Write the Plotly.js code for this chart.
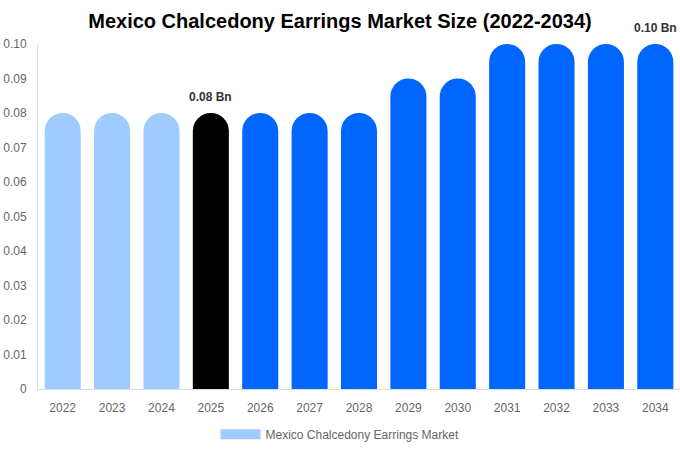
<!DOCTYPE html>
<html>
<head>
<meta charset="utf-8">
<script src="https://cdn.plot.ly/plotly-3.0.1.min.js"></script>
<style>
  html, body { margin: 0; padding: 0; background: #fff; }
  #chart { width: 680px; height: 450px; }
</style>
</head>
<body>
<div id="chart"></div>
<script>
// market size per year, in billions
var years = ['2022', '2023', '2024', '2025', '2026', '2027', '2028',
             '2029', '2030', '2031', '2032', '2033', '2034'];
var sizes = [0.08, 0.08, 0.08, 0.08, 0.08, 0.08, 0.08,
             0.09, 0.09, 0.10, 0.10, 0.10, 0.10];
var barColors = ['#a0cbff', '#a0cbff', '#a0cbff', '#000000',
                 '#0066ff', '#0066ff', '#0066ff', '#0066ff', '#0066ff',
                 '#0066ff', '#0066ff', '#0066ff', '#0066ff'];
var yTicks = [0, 0.01, 0.02, 0.03, 0.04, 0.05, 0.06, 0.07, 0.08, 0.09, 0.10];
var yTickText = ['0', '0.01', '0.02', '0.03', '0.04', '0.05', '0.06',
                 '0.07', '0.08', '0.09', '0.10'];
var labelled = ['2025', '2034'];
var seriesName = 'Mexico Chalcedony Earrings Market';

var bars = {
  type: 'bar',
  x: years,
  y: sizes,
  marker: { color: barColors, cornerradius: 18 },
  showlegend: false,
  hoverinfo: 'x+y'
};

// legend swatch only, no visible point
var legendItem = {
  type: 'scatter',
  mode: 'lines',
  x: [years[0]],
  y: [null],
  name: seriesName,
  line: { color: '#a0cbff', width: 12 },
  showlegend: true
};

// on a category axis annotations take the category index
var notes = labelled.map(function (yr) {
  var i = years.indexOf(yr);
  return {
    x: i, y: sizes[i], xref: 'x', yref: 'y',
    text: '<b>' + sizes[i].toFixed(2) + ' Bn</b>',
    showarrow: false, yanchor: 'bottom', yshift: 7,
    font: { family: 'Liberation Sans, Arial, sans-serif', size: 12, color: '#333' }
  };
});

var layout = {
  width: 680,
  height: 450,
  margin: { l: 38, r: 0, t: 44, b: 61 },
  paper_bgcolor: '#fff',
  plot_bgcolor: '#fff',
  font: { family: 'Liberation Sans, Arial, sans-serif', size: 12, color: '#666' },
  title: {
    text: '<b>Mexico Chalcedony Earrings Market Size (2022-2034)</b>',
    x: 0.5, xanchor: 'center', y: 0.953, yanchor: 'middle',
    font: { size: 20, color: '#000' }
  },
  bargap: 0.27,
  xaxis: {
    type: 'category',
    categoryarray: years,
    showgrid: false,
    showline: true, linecolor: '#ddd', linewidth: 1,
    ticks: 'outside', ticklen: 8, tickcolor: 'rgba(0,0,0,0)',
    tickfont: { size: 12, color: '#666' },
    fixedrange: true
  },
  yaxis: {
    range: [0, 0.1],
    showgrid: false, zeroline: false,
    showline: true, linecolor: '#ddd', linewidth: 1,
    tickvals: yTicks, ticktext: yTickText,
    ticks: 'outside', ticklen: 8, tickcolor: 'rgba(0,0,0,0)',
    tickfont: { size: 12, color: '#666' },
    fixedrange: true
  },
  showlegend: true,
  legend: {
    orientation: 'h',
    x: 0.5, xanchor: 'center', xref: 'container',
    y: 0.035, yanchor: 'middle', yref: 'container',
    itemwidth: 40,
    font: { size: 12, color: '#666' }
  },
  annotations: notes
};

Plotly.newPlot('chart', [bars, legendItem], layout, { displayModeBar: false, staticPlot: true });
</script>
</body>
</html>
